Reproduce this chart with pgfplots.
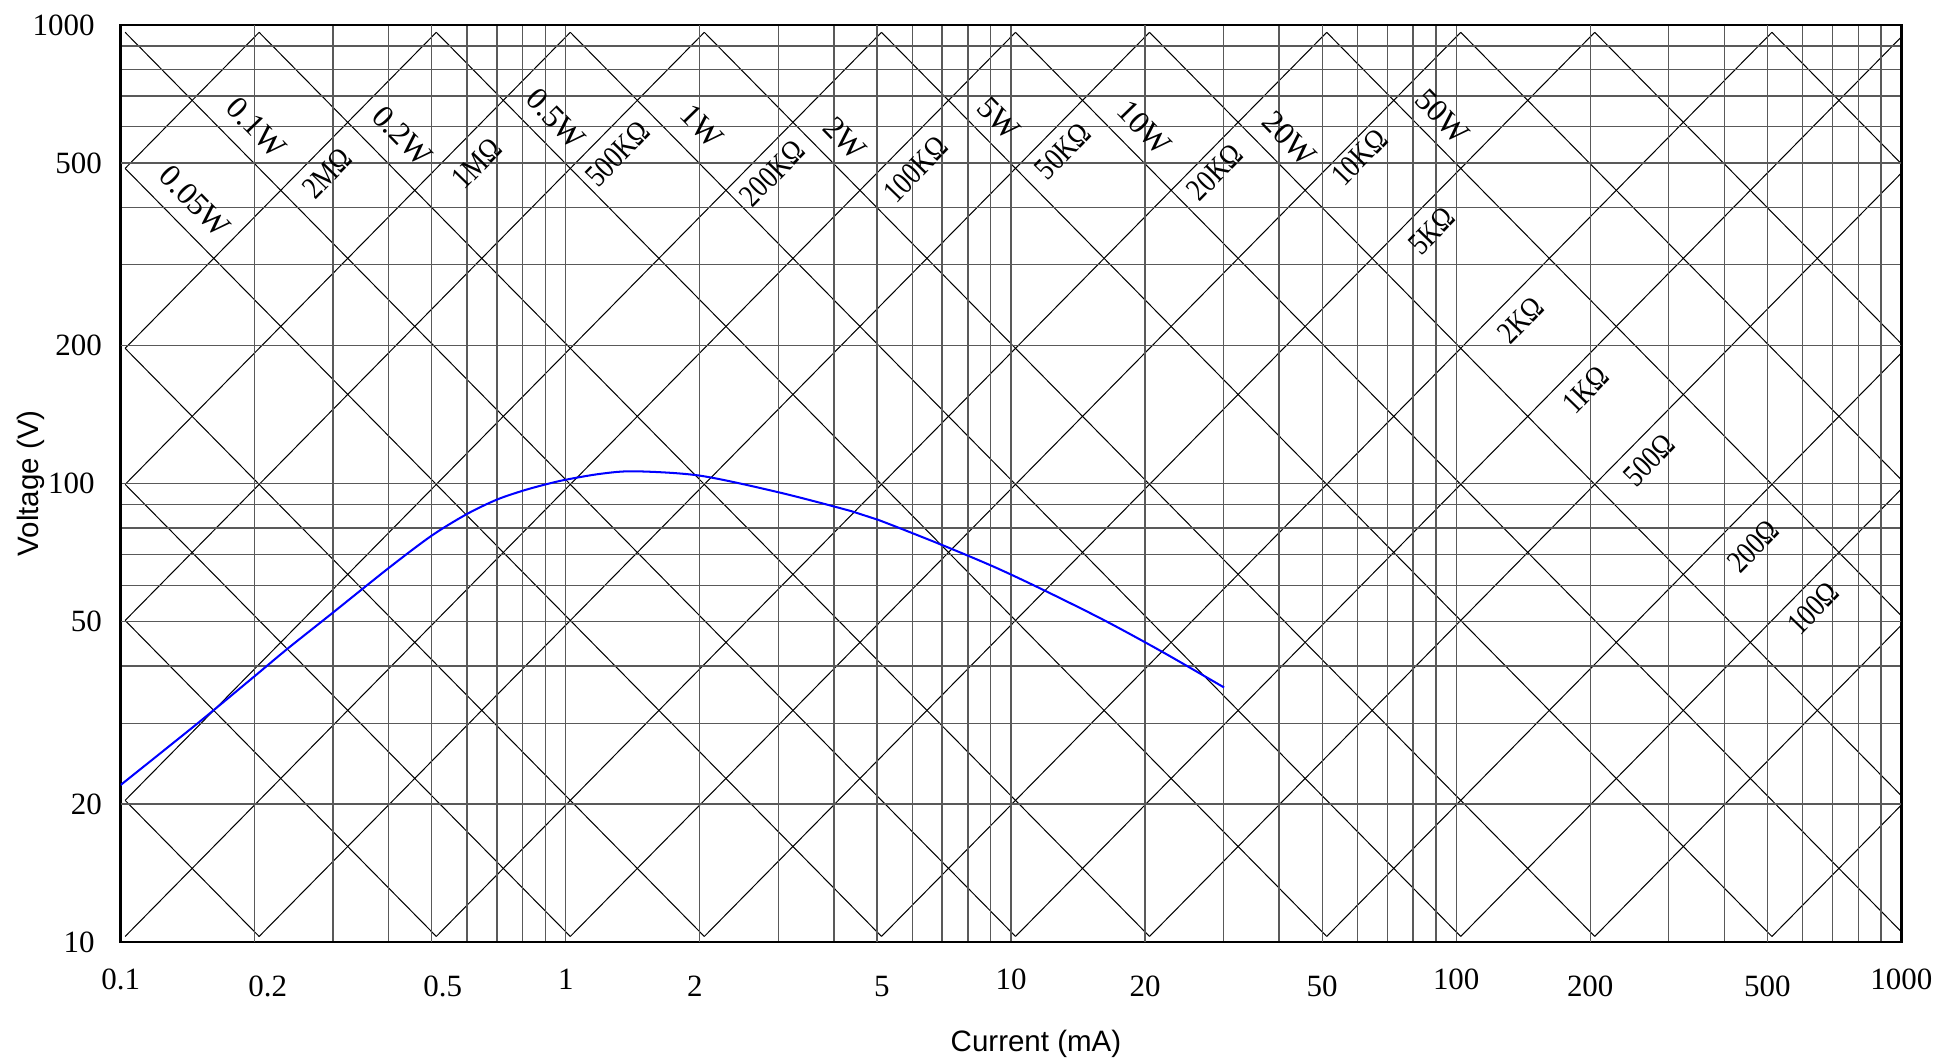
\documentclass[border=0pt]{standalone}
\usepackage{fontspec}
\setmainfont{Liberation Serif}
\setsansfont{Liberation Sans}
\usepackage{graphicx}
\usepackage{pgfplots}
\pgfplotsset{compat=1.18}

\tikzset{
  dg/.style={black, line width=0.35pt},
  wlab/.style={font=\fontsize{11}{13}\selectfont, rotate=-45.8, inner sep=0pt},
  rlab/.style={font=\fontsize{11}{13}\selectfont, rotate=45.8, inner sep=0pt},
}
\newcommand{\ohm}[1]{\scalebox{0.82}[1]{#1}}

\begin{document}
\begin{tikzpicture}
% constant power / constant resistance lines (slightly inset, like the original)
\begin{axis}[xmode=log, ymode=log,
  scale only axis, width=615.5pt, height=317pt, hide axis,
  xmin=0.0977, xmax=977, ymin=9.72, ymax=1038.8]
% power lines
\addplot[dg] coordinates {(0.1,20) (0.2,10)};
\addplot[dg] coordinates {(0.1,50) (0.5,10)};
\addplot[dg] coordinates {(0.1,100) (1,10)};
\addplot[dg] coordinates {(0.1,200) (2,10)};
\addplot[dg] coordinates {(0.1,500) (5,10)};
\addplot[dg] coordinates {(0.1,1000) (10,10)};
\addplot[dg] coordinates {(0.2,1000) (20,10)};
\addplot[dg] coordinates {(0.5,1000) (50,10)};
\addplot[dg] coordinates {(1,1000) (100,10)};
\addplot[dg] coordinates {(2,1000) (200,10)};
\addplot[dg] coordinates {(5,1000) (500,10)};
\addplot[dg] coordinates {(10,1000) (1000,10)};
\addplot[dg] coordinates {(20,1000) (1000,20)};
\addplot[dg] coordinates {(50,1000) (1000,50)};
\addplot[dg] coordinates {(100,1000) (1000,100)};
\addplot[dg] coordinates {(200,1000) (1000,200)};
\addplot[dg] coordinates {(500,1000) (1000,500)};
% resistance lines
\addplot[dg] coordinates {(0.1,500) (0.2,1000)};
\addplot[dg] coordinates {(0.1,200) (0.5,1000)};
\addplot[dg] coordinates {(0.1,100) (1,1000)};
\addplot[dg] coordinates {(0.1,50) (2,1000)};
\addplot[dg] coordinates {(0.1,20) (5,1000)};
\addplot[dg] coordinates {(0.1,10) (10,1000)};
\addplot[dg] coordinates {(0.2,10) (20,1000)};
\addplot[dg] coordinates {(0.5,10) (50,1000)};
\addplot[dg] coordinates {(1,10) (100,1000)};
\addplot[dg] coordinates {(2,10) (200,1000)};
\addplot[dg] coordinates {(5,10) (500,1000)};
\addplot[dg] coordinates {(10,10) (1000,1000)};
\addplot[dg] coordinates {(20,10) (1000,500)};
\addplot[dg] coordinates {(50,10) (1000,200)};
\addplot[dg] coordinates {(100,10) (1000,100)};
\addplot[dg] coordinates {(200,10) (1000,50)};
\addplot[dg] coordinates {(500,10) (1000,20)};
\end{axis}

\begin{axis}[xmode=log, ymode=log,
  scale only axis, width=615.5pt, height=317pt,
  xmin=0.1, xmax=1000, ymin=10, ymax=1000,
  axis line style={line width=0.9pt},
  grid=both,
  major grid style={black!65, line width=0.45pt},
  minor grid style={black!65, line width=0.45pt},
  major tick length=0pt, minor tick length=0pt,
  /pgf/number format/assume math mode=true,
  tick label style={font=\fontsize{10.7}{12}\selectfont},
  xtick={0.1,1,10,100,1000}, xticklabels={0.1,1,10,100,1000},
  minor xtick={0.2,0.3,0.4,0.5,0.6,0.7,0.8,0.9,2,3,4,5,6,7,8,9,
    20,30,40,50,60,70,80,90,200,300,400,500,600,700,800,900},
  extra x ticks={0.2,0.5,2,5,20,50,200,500},
  extra x tick labels={\hspace*{9pt}0.2,\hspace*{7.6pt}0.5,2\hspace*{3.4pt},
    \hspace*{3.4pt}5,20,50,200,500},
  extra x tick style={xticklabel style={yshift=-2.5pt}},
  xticklabel style={anchor=center, yshift=-12.9pt},
  ytick={10,100,1000}, yticklabels={10,100,1000},
  minor ytick={20,30,40,50,60,70,80,90,200,300,400,500,600,700,800,900},
  extra y ticks={20,50,200,500},
  extra y tick labels={20,50,200,500},
  extra y tick style={yticklabel style={xshift=2.5pt}},
  yticklabel style={anchor=east, xshift=-5.5pt},
  xlabel={Current (mA)}, ylabel={Voltage (V)},
  every axis x label/.style={at={(axis description cs:0.514,-0.1105)},
    anchor=center, inner sep=0pt, font=\sffamily\fontsize{10.2}{12}\selectfont},
  every axis y label/.style={at={(axis description cs:-0.0504,0.5)},
    anchor=center, inner sep=0pt, rotate=90,
    font=\sffamily\fontsize{10.2}{12}\selectfont},
]
\addplot[blue, line width=0.7pt, smooth, no marks] coordinates {
  (0.1,22.0) (0.149,30.0) (0.2,38.0) (0.237,43.6) (0.3,52.3) (0.4,65.4)
  (0.5,77.0) (0.6,85.8) (0.7,92.2) (0.8,96.4) (0.9,99.5) (1.0,101.9)
  (1.2,105.0) (1.43,106.3) (2.0,104.0) (3.0,95.7) (4.38,87.0) (5.03,83.3)
  (6.98,73.5) (9.19,65.7) (11.9,58.4) (16.2,50.3) (21.9,42.9) (30.1,35.9)};

\node[wlab] at (0.147,412) {0.05W};
\node[wlab] at (0.202,597) {0.1W};
\node[wlab] at (0.430,572) {0.2W};
\node[wlab] at (0.950,624) {0.5W};
\node[wlab] at (2.02,601) {1W};
\node[wlab] at (4.24,565) {2W};
\node[wlab] at (9.38,624) {5W};
\node[wlab] at (19.95,597) {10W};
\node[wlab] at (42.2,565) {20W};
\node[wlab] at (93.1,632) {50W};

\node[rlab] at (0.291,475) {\ohm{2MΩ}};
\node[rlab] at (0.631,499) {\ohm{1MΩ}};
\node[rlab] at (1.308,524) {\ohm{500KΩ}};
\node[rlab] at (2.91,475) {\ohm{200KΩ}};
\node[rlab] at (6.11,484) {\ohm{100KΩ}};
\node[rlab] at (13.08,531) {\ohm{50KΩ}};
\node[rlab] at (28.7,477) {\ohm{20KΩ}};
\node[rlab] at (60.7,515) {\ohm{10KΩ}};
\node[rlab] at (88.0,355) {\ohm{5KΩ}};
\node[rlab] at (139.4,227) {\ohm{2KΩ}};
\node[rlab] at (195.7,160) {\ohm{1KΩ}};
\node[rlab] at (271,112.5) {\ohm{500Ω}};
\node[rlab] at (464,72.9) {\ohm{200Ω}};
\node[rlab] at (635,53.4) {\ohm{100Ω}};
\end{axis}
\path ([shift={(-41.7pt,-41pt)}]current axis.south west)
  rectangle ([shift={(12.8pt,8.6pt)}]current axis.north east);
\end{tikzpicture}
\end{document}
